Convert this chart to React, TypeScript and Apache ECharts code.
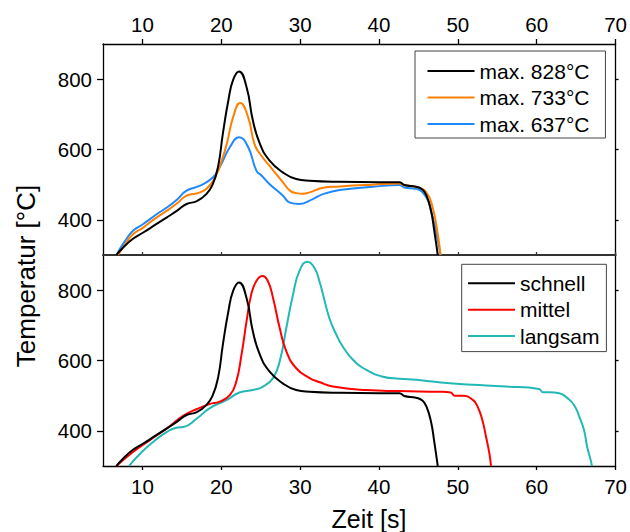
import React, { useEffect, useRef } from "react";
import * as echarts from "echarts";

// x ticks (s) and y ticks (°C)
const xTicks = [10, 20, 30, 40, 50, 60, 70];
const yTicks = [400, 600, 800];

// Top panel: different max temperatures
const max828: [number, number][] = [
  [6.7, 300], [7.5, 320], [8.8, 346], [10.1, 364], [11.5, 384], [13.1, 407], [14.4, 426],
  [15.6, 445], [16.9, 453], [18.1, 473], [18.9, 500], [19.6, 552], [20.2, 645], [20.9, 740],
  [21.5, 798], [22.25, 822], [23.2, 778], [24.0, 683], [24.9, 616], [26.1, 569], [27.8, 535],
  [29.5, 516], [31.2, 511], [35, 508], [40, 507], [42.6, 507], [43.2, 499], [44.7, 494],
  [45.5, 486], [46.0, 470], [46.6, 425], [47.0, 370], [47.45, 300],
];
const max733: [number, number][] = [
  [6.9, 300], [7.8, 330], [8.8, 359], [10.1, 378], [11.5, 402], [13.1, 426], [14.4, 447],
  [15.6, 469], [17.3, 478], [18.5, 497], [19.4, 530], [20.0, 565], [20.7, 616], [21.5, 692],
  [22.4, 732], [23.4, 692], [24.2, 616], [24.9, 588], [26.1, 554], [27.8, 507], [28.7, 483],
  [29.5, 476], [30.35, 474], [31.2, 478], [32.9, 491], [35.0, 495], [39.2, 500], [42.6, 503],
  [43.2, 499], [44.7, 494], [46.0, 478], [46.8, 435], [47.45, 359], [47.8, 300],
];
const max637: [number, number][] = [
  [6.7, 300], [7.8, 340], [8.8, 369], [10.1, 388], [11.8, 416], [13.1, 435], [14.4, 458],
  [15.6, 483], [17.3, 497], [18.96, 521], [19.8, 550], [21.1, 607], [22.25, 635], [23.4, 607],
  [24.45, 540], [25.1, 526], [26.1, 502], [27.8, 469], [28.7, 449], [29.9, 445], [31.6, 459],
  [32.9, 473], [35.0, 485], [39.2, 494], [42.6, 499], [43.2, 492], [44.7, 488], [46.0, 464],
  [46.6, 426], [47.3, 359], [47.8, 300],
];

// Bottom panel: cooling speeds
const schnell = max828;
const mittel: [number, number][] = [
  [6.7, 300], [8.8, 340], [10.9, 373], [13.1, 407], [15.2, 443], [16.9, 462], [18.5, 476],
  [19.8, 483], [21.1, 502], [21.9, 540], [22.56, 616], [23.2, 711], [23.8, 788], [24.45, 826],
  [25.2, 840], [25.9, 826], [26.56, 778], [27.4, 693], [28.25, 626], [29.5, 578], [31.2, 550],
  [32.5, 538], [34.15, 526], [38.4, 516], [42.6, 513], [47.7, 511], [49.1, 509], [49.56, 500],
  [50.6, 500], [51.9, 488], [52.5, 469], [53.1, 431], [53.57, 383], [54.0, 335], [54.2, 300],
];
const langsam: [number, number][] = [
  [8.3, 300], [9.7, 335], [11.4, 369], [13.1, 397], [14.3, 409], [15.2, 411], [16.9, 435],
  [18.5, 464], [20.7, 488], [22.3, 509], [24.0, 516], [25.3, 526], [26.56, 550], [27.4, 597],
  [28.25, 693], [29.1, 788], [29.9, 854], [30.9, 881], [31.8, 864], [32.5, 821], [32.9, 788],
  [33.7, 721], [34.6, 673], [35.4, 640], [36.7, 602], [38.4, 573], [40.5, 554], [42.6, 548],
  [44.7, 545], [46.8, 540], [50.2, 533], [51.9, 531], [56.1, 526], [60.3, 519], [60.76, 510],
  [61.6, 510], [62.85, 507], [63.9, 493], [64.75, 473], [65.4, 440], [66.0, 402], [66.4, 354],
  [66.85, 316], [67.0, 300],
];

const topNames = ["max. 828°C", "max. 733°C", "max. 637°C"];
const bottomNames = ["schnell", "mittel", "langsam"];
const topColors = ["#000000", "#ff8000", "#1e88ff"];
const bottomColors = ["#000000", "#ff0000", "#22b8b6"];

const FONT = "Liberation Sans, Arial, Helvetica, sans-serif";

export default function App() {
  const ref = useRef<HTMLDivElement>(null);
  useEffect(() => {
    if (!ref.current) return;
    const chart = echarts.init(ref.current, null, { renderer: "svg" });
    const frame = { lineStyle: { color: "#000", width: 1.3 } };
    const xBase = (gridIndex: number, position: string) => ({
      type: "value",
      gridIndex,
      position,
      min: 5,
      max: 70,
      splitLine: { show: false },
    });
    const yBase = (gridIndex: number, position: string) => ({
      type: "value",
      gridIndex,
      position,
      min: 300,
      max: 900,
      splitLine: { show: false },
    });
    const mkSeries = (names: string[], colors: string[], datas: [number, number][][], axisX: number, axisY: number) =>
      names.map((n, i) => ({
        type: "line",
        name: n,
        data: datas[i],
        xAxisIndex: axisX,
        yAxisIndex: axisY,
        symbol: "none",
        showSymbol: false,
        smooth: 0.5,
        color: colors[i],
        lineStyle: { color: colors[i], width: 2 },
        itemStyle: { color: colors[i] },
        z: 3 - i,
      }));
    const legendText = { fontSize: 21, fontFamily: FONT, color: "#000", lineHeight: 21 };
    chart.setOption({
      animation: false,
      textStyle: { fontFamily: FONT },
      grid: [
        { left: 103, right: 13, top: 44, height: 211 },
        { left: 103, right: 13, top: 255, height: 211 },
      ],
      xAxis: [
        {
          ...xBase(0, "top"),
          axisLine: frame,
          axisTick: { show: true, inside: false, length: 5, lineStyle: { color: "#000", width: 1.3 }, customValues: xTicks },
          axisLabel: { show: true, fontSize: 20.5, color: "#000", margin: 9, fontFamily: FONT, customValues: xTicks },
        },
        {
          ...xBase(0, "bottom"),
          axisLine: { lineStyle: { color: "#333", width: 2 } },
          axisTick: { show: true, inside: true, length: 3, lineStyle: { color: "#333", width: 1.3 }, customValues: xTicks },
          axisLabel: { show: false },
        },
        {
          ...xBase(1, "bottom"),
          axisLine: frame,
          axisTick: { show: true, inside: false, length: 4, lineStyle: { color: "#000", width: 1.3 }, customValues: xTicks },
          axisLabel: { show: true, fontSize: 20.5, color: "#000", margin: 10, fontFamily: FONT, customValues: xTicks },
        },
        {
          ...xBase(1, "top"),
          axisLine: { show: false },
          axisTick: { show: false },
          axisLabel: { show: false },
        },
      ],
      yAxis: [
        {
          ...yBase(0, "left"),
          axisLine: { show: true, ...frame },
          axisTick: { show: true, inside: false, length: 6, lineStyle: { color: "#000", width: 1.3 }, customValues: yTicks },
          axisLabel: { show: true, fontSize: 20.5, color: "#000", margin: 11, fontFamily: FONT, customValues: yTicks },
        },
        {
          ...yBase(0, "right"),
          axisLine: { show: true, ...frame },
          axisTick: { show: true, inside: false, length: 3, lineStyle: { color: "#000", width: 1.3 }, customValues: yTicks },
          axisLabel: { show: false },
        },
        {
          ...yBase(1, "left"),
          axisLine: { show: true, ...frame },
          axisTick: { show: true, inside: false, length: 6, lineStyle: { color: "#000", width: 1.3 }, customValues: yTicks },
          axisLabel: { show: true, fontSize: 20.5, color: "#000", margin: 11, fontFamily: FONT, customValues: yTicks },
        },
        {
          ...yBase(1, "right"),
          axisLine: { show: true, ...frame },
          axisTick: { show: true, inside: false, length: 3, lineStyle: { color: "#000", width: 1.3 }, customValues: yTicks },
          axisLabel: { show: false },
        },
      ],
      legend: [
        {
          data: topNames,
          orient: "vertical",
          left: 415,
          top: 51,
          icon: "rect",
          itemWidth: 47,
          itemHeight: 2,
          itemGap: 5.5,
          itemTextGap: 7,
          padding: [9.5, 16, 3.5, 12.5],
          borderColor: "#444",
          borderWidth: 1,
          backgroundColor: "#fff",
          textStyle: legendText,
          selectedMode: false,
        },
        {
          data: bottomNames,
          orient: "vertical",
          left: 461.7,
          top: 264.3,
          icon: "rect",
          itemWidth: 47,
          itemHeight: 2,
          itemGap: 5.4,
          itemTextGap: 7,
          padding: [8.5, 7, 5, 6.3],
          borderColor: "#444",
          borderWidth: 1,
          backgroundColor: "#fff",
          textStyle: legendText,
          selectedMode: false,
        },
      ],
      graphic: [
        {
          type: "text",
          x: 26,
          y: 276,
          rotation: Math.PI / 2,
          style: {
            text: "Temperatur [°C]",
            fontSize: 26,
            fontFamily: FONT,
            fill: "#000",
            align: "center",
            verticalAlign: "middle",
          },
        },
        {
          type: "text",
          x: 369,
          y: 519,
          style: {
            text: "Zeit [s]",
            fontSize: 25,
            fontFamily: FONT,
            fill: "#000",
            align: "center",
            verticalAlign: "middle",
          },
        },
      ],
      series: [
        ...mkSeries(topNames, topColors, [max828, max733, max637], 0, 0),
        ...mkSeries(bottomNames, bottomColors, [schnell, mittel, langsam], 2, 2),
      ],
    });
    return () => chart.dispose();
  }, []);
  return <div ref={ref} style={{ width: 630, height: 532, position: "absolute", left: 0, top: 0 }} />;
}
